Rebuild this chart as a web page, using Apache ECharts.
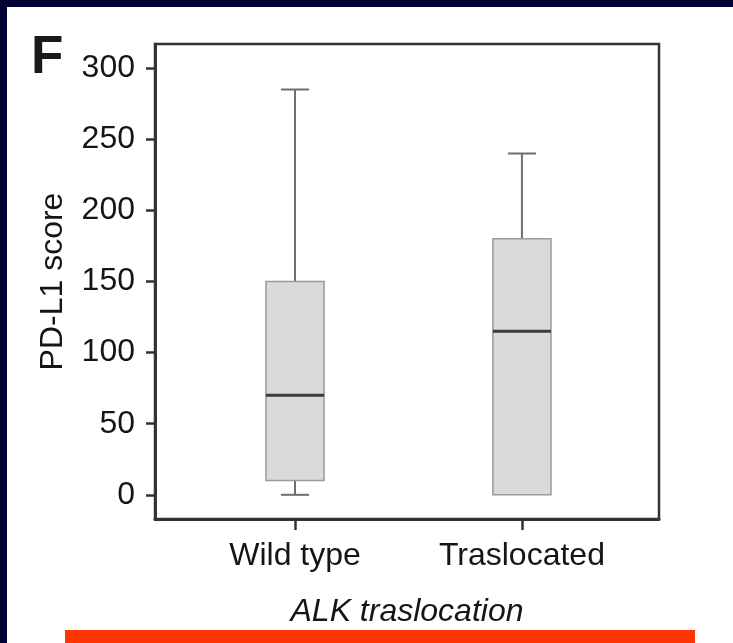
<!DOCTYPE html>
<html><head><meta charset="utf-8">
<script src="https://cdn.jsdelivr.net/npm/echarts@6/dist/echarts.min.js"></script>
<style>
html,body{margin:0;padding:0;background:#000033;width:733px;height:643px;overflow:hidden;}
#panel{position:absolute;left:7px;top:7px;width:726px;height:636px;background:#fff;}
#bar{position:absolute;left:65px;top:630px;width:630px;height:13px;background:#ff3300;}
#chart{position:absolute;left:0;top:0;width:733px;height:643px;}
</style></head><body>
<div id="panel"></div><div id="bar"></div><div id="chart"></div>
<script>
const categories = ['Wild type', 'Traslocated'];
const minValues = [0, 0];
const q1Values = [10, 0];
const medianValues = [70, 115];
const q3Values = [150, 180];
const maxValues = [285, 240];
const yTicks = [0, 50, 100, 150, 200, 250, 300];
const xPositions = [1, 2];

const FONT = '"Liberation Sans", Arial, Helvetica, sans-serif';
const boxData = categories.map((c, i) => [xPositions[i], minValues[i], q1Values[i], medianValues[i], q3Values[i], maxValues[i]]);

function renderBox(params, api) {
  const x = api.value(0);
  const unit = api.size([1, 0])[0];
  const hb = unit * 0.128, hc = unit * 0.062;
  const vMin = api.value(1), vQ1 = api.value(2), vMed = api.value(3), vQ3 = api.value(4), vMax = api.value(5);
  const pMin = api.coord([x, vMin]), pQ1 = api.coord([x, vQ1]), pMed = api.coord([x, vMed]);
  const pQ3 = api.coord([x, vQ3]), pMax = api.coord([x, vMax]);
  const cx = pMed[0];
  const wStyle = { stroke: '#6f6f6f', lineWidth: 2 };
  const children = [];
  children.push({ type: 'line', shape: { x1: cx, y1: pQ3[1], x2: cx, y2: pMax[1] }, style: wStyle });
  children.push({ type: 'line', shape: { x1: cx - hc, y1: pMax[1], x2: cx + hc, y2: pMax[1] }, style: wStyle });
  if (vMin < vQ1) {
    children.push({ type: 'line', shape: { x1: cx, y1: pQ1[1], x2: cx, y2: pMin[1] }, style: wStyle });
    children.push({ type: 'line', shape: { x1: cx - hc, y1: pMin[1], x2: cx + hc, y2: pMin[1] }, style: wStyle });
  }
  children.push({ type: 'rect', shape: { x: cx - hb, y: pQ3[1], width: hb * 2, height: pQ1[1] - pQ3[1] },
    style: { fill: '#dadada', stroke: '#9a9a9a', lineWidth: 1.5 } });
  children.push({ type: 'line', shape: { x1: cx - hb, y1: pMed[1], x2: cx + hb, y2: pMed[1] },
    style: { stroke: '#3c3c3c', lineWidth: 3 } });
  return { type: 'group', children };
}

const chart = echarts.init(document.getElementById('chart'), null, { renderer: 'canvas' });
chart.setOption({
  backgroundColor: 'transparent',
  animation: false,
  title: {
    text: 'F', left: 31, top: 32, padding: 0,
    textStyle: { fontFamily: FONT, fontSize: 53, fontWeight: 'bold', color: '#1a1a1a' }
  },
  grid: { left: 155, right: 74, top: 44, bottom: 124, show: true, borderColor: '#333', borderWidth: 2.5, backgroundColor: 'transparent' },
  xAxis: {
    type: 'value', min: 0.383, max: 2.604,
    name: 'ALK traslocation', nameLocation: 'middle', nameGap: 77,
    nameTextStyle: { fontFamily: FONT, fontSize: 32, fontStyle: 'italic', color: '#151515' },
    axisLine: { show: true, onZero: false, lineStyle: { color: '#333', width: 3 } },
    axisTick: { show: true, customValues: xPositions, length: 11, lineStyle: { color: '#333', width: 2.5 } },
    axisLabel: { customValues: xPositions, margin: 21, fontFamily: FONT, fontSize: 32, color: '#151515',
      formatter: v => categories[xPositions.indexOf(Math.round(v))] || '' },
    splitLine: { show: false }
  },
  yAxis: {
    type: 'value', min: -17, max: 317,
    name: 'PD-L1 score', nameLocation: 'middle', nameGap: 86,
    nameTextStyle: { fontFamily: FONT, fontSize: 32, color: '#151515' },
    axisLine: { show: true, onZero: false, lineStyle: { color: '#333', width: 3 } },
    axisTick: { show: true, customValues: yTicks, length: 9, lineStyle: { color: '#333', width: 2.5 } },
    axisLabel: { customValues: yTicks, margin: 20, fontFamily: FONT, fontSize: 32, color: '#151515' },
    splitLine: { show: false }
  },
  series: [{
    type: 'custom', renderItem: renderBox, data: boxData,
    encode: { x: 0, y: [1, 2, 3, 4, 5] }, clip: false
  }]
});
</script>
</body></html>
